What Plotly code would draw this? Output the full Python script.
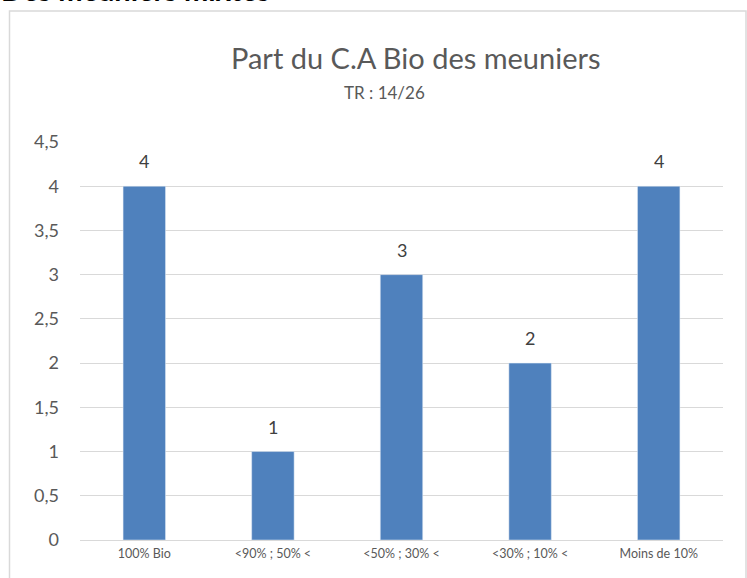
import plotly.graph_objects as go

# ==========================================
# DATA
# ==========================================
categories = ["100% Bio", "<90% ; 50% <", "<50% ; 30% <", "<30% ; 10% <", "Moins de 10%"]
counts = [4, 1, 3, 2, 4]
y_ticks = [0, 0.5, 1, 1.5, 2, 2.5, 3, 3.5, 4, 4.5]
y_tick_labels = ["0", "0,5", "1", "1,5", "2", "2,5", "3", "3,5", "4", "4,5"]

FONT = "Lato, Open Sans, sans-serif"
GREY = "#595959"

# plot area in pixels: x 80..723, y 142..540
W, H = 747, 578
L, R, T, B = 80, 24, 142, 38
pw, ph = W - L - R, H - T - B

def px(x):
    return (x - L) / pw

def py(y):
    return (H - B - y) / ph

fig = go.Figure()
fig.add_trace(go.Bar(x=categories, y=counts, marker_color="#4F81BD"))

# value labels above the bars
for c, v in zip(categories, counts):
    fig.add_annotation(x=c, y=v, text=str(v), showarrow=False,
                       yanchor="bottom", yshift=12,
                       font=dict(size=18, color="#404040", family=FONT))

fig.update_layout(
    width=W, height=H,
    margin=dict(l=L, r=R, t=T, b=B),
    plot_bgcolor="white", paper_bgcolor="white",
    bargap=0.67, showlegend=False,
    font=dict(family=FONT, color=GREY),
    xaxis=dict(showgrid=False, showline=False, ticks="",
               tickfont=dict(size=12.5, color=GREY), ticklabelstandoff=4),
    yaxis=dict(range=[0, 4.5], tickvals=y_ticks, ticktext=y_tick_labels,
               showgrid=True, gridcolor="#D9D9D9", gridwidth=1,
               zeroline=True, zerolinecolor="#D9D9D9", zerolinewidth=1,
               tickfont=dict(size=18, color=GREY), ticklabelstandoff=20),
)

# chart border
fig.add_shape(type="rect", xref="paper", yref="paper",
              x0=px(9.5), x1=px(746), y0=py(590), y1=py(11),
              line=dict(color="#D9D9D9", width=1.5), layer="below")

fig.add_annotation(text="Part du C.A Bio des meuniers", xref="paper", yref="paper",
                   x=px(416), y=py(57), yanchor="middle", showarrow=False,
                   font=dict(size=29, color=GREY, family=FONT))
fig.add_annotation(text="TR : 14/26", xref="paper", yref="paper",
                   x=px(384), y=py(93), yanchor="middle", showarrow=False,
                   font=dict(size=17, color=GREY, family=FONT))
# heading from the page above the chart, cut off by the crop
fig.add_annotation(text="<b>Des meuniers mixtes</b>", xref="paper", yref="paper",
                   x=px(-1), y=py(-10), xanchor="left", yanchor="middle", showarrow=False,
                   font=dict(size=29, color="black", family=FONT))

fig.write_html("out.html", config={"displayModeBar": False},
               post_script="document.body.style.margin='0';")
